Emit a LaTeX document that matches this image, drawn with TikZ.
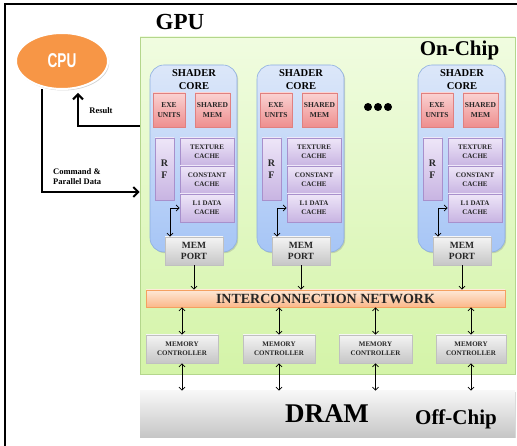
\documentclass[tikz,border=0pt]{standalone}
\usepackage{fontspec}
\setmainfont{Liberation Serif}
\newfontfamily\cpufont{Liberation Sans}
\usetikzlibrary{arrows.meta,shadows,shapes.geometric}
\newcommand\fsz[2]{\fontsize{#1}{#2}\selectfont\bfseries}
\definecolor{chipT}{HTML}{F0FCE0}
\definecolor{chipB}{HTML}{D4F4A8}
\definecolor{chipD}{HTML}{B4D68C}
\definecolor{coreT}{HTML}{DCE7F9}
\definecolor{coreB}{HTML}{A6C5F6}
\definecolor{coreD}{HTML}{8CAEE0}
\definecolor{exeT}{HTML}{FAD2D2}
\definecolor{exeB}{HTML}{EE8E8E}
\definecolor{exeD}{HTML}{E08080}
\definecolor{purT}{HTML}{EEE6F8}
\definecolor{purB}{HTML}{C8B4E2}
\definecolor{purD}{HTML}{A890CC}
\definecolor{grT}{HTML}{F4F4F4}
\definecolor{grB}{HTML}{C6C6C6}
\definecolor{grD}{HTML}{C0C0C0}
\definecolor{icnT}{HTML}{FEE8D6}
\definecolor{icnB}{HTML}{FBB88A}
\definecolor{icnD}{HTML}{F5A060}
\definecolor{cpuO}{HTML}{F79646}
\begin{document}
\begin{tikzpicture}[x=1pt,y=-1pt,
  shad/.style={drop shadow={shadow xshift=1.2pt,shadow yshift=-1.2pt,opacity=0.3}},
  bx/.style={rectangle,inner sep=0pt,align=center,line width=0.6pt,shad,text=black!85},
  exe/.style={bx,minimum width=32,minimum height=34,top color=exeT,bottom color=exeB,draw=exeD,font=\fsz{7.5}{10}},
  purp/.style={bx,minimum width=54,minimum height=28,top color=purT,bottom color=purB,draw=purD,font=\fsz{7}{9}},
  grayb/.style={bx,top color=grT,bottom color=grB,draw=grD},
  thinarr/.style={line width=0.8pt,>={Straight Barb[length=3pt,width=6pt]}},
  bigarr/.style={line width=2pt,>={Straight Barb[length=5pt,width=10pt]}},
  lbl/.style={inner sep=0pt,align=center}]
\path[use as bounding box] (0,0) rectangle (517,446);
\clip (0,0) rectangle (517,446);
\draw[line width=1.8pt] (5,4) rectangle (540,470);
% chip area
\node[bx,minimum width=375,minimum height=337,top color=chipT,bottom color=chipB,draw=chipD] (chip) at (327.5,205.5) {};
% DRAM
\node[bx,minimum width=375,minimum height=46,top color=grT!70!white,bottom color=grB,draw=none] (dram) at (327.5,414) {};
\node[lbl,font=\fsz{27}{30}] (dramtxt) at (327,414) {DRAM};
\node[lbl,font=\fsz{21}{24}] (offchip) at (456,419) {Off-Chip};
% labels
\node[lbl,font=\fsz{23}{26}] (gpu) at (180,22) {GPU};
\node[lbl,font=\fsz{21}{24}] (onchip) at (459.5,50) {On-Chip};
% cores
\foreach \d/\i in {0/a,107/b,268/c}{
  \node[bx,rounded corners=14,minimum width=87,minimum height=187,top color=coreT,bottom color=coreB,draw=coreD,drop shadow={opacity=0}] (core\i) at (193.5+\d,158.5) {};
  \node[lbl,font=\fsz{10.5}{13}] (title\i) at (194+\d,80) {SHADER\\CORE};
  \node[exe] (exe\i) at (169+\d,110) {EXE\\UNITS};
  \node[exe,minimum width=35] (sh\i) at (212.5+\d,110) {SHARED\\MEM};
  \node[purp,minimum width=19,minimum height=62,font=\fsz{10}{12}] (rf\i) at (164.5+\d,169) {R\\F};
  \node[purp] (tex\i) at (207+\d,152) {TEXTURE\\CACHE};
  \node[purp] (con\i) at (207+\d,180) {CONSTANT\\CACHE};
  \node[purp] (lone\i) at (207+\d,208) {L1 DATA\\CACHE};
  \node[grayb,minimum width=58,minimum height=28,font=\fsz{9.5}{11}] (mp\i) at (194+\d,251) {MEM\\PORT};
  \draw[thinarr,<->] (lone\i.west) -| ([xshift=-24pt]mp\i.north);
}
% dots
\fill (368,107) circle (4) (378,107) circle (4) (388,107) circle (4);
% interconnect
\node[bx,minimum width=359,minimum height=17,top color=icnT,bottom color=icnB,draw=icnD,font=\fsz{14}{16}] (icn) at (325.5,298.5) {INTERCONNECTION NETWORK};
\foreach \i in {a,b,c}{
  \draw[thinarr,->] (mp\i.south) -- (mp\i.south |- icn.north);
}
% memory controllers
\foreach \x/\w/\i in {182/72/1,279/72/2,375.5/73/3,471/70/4}{
  \node[grayb,minimum width=\w,minimum height=28,font=\fsz{7}{9}] (mc\i) at (\x,349) {MEMORY\\CONTROLLER};
  \draw[thinarr,<->] (icn.south -| mc\i.north) -- (mc\i.north);
  \draw[thinarr,<->] (mc\i.south) -- (mc\i.south |- dram.north);
}
% CPU
\node[ellipse,minimum width=92,minimum height=56,fill=cpuO,draw=white,line width=2pt,drop shadow={shadow xshift=1.2pt,shadow yshift=-1.5pt,opacity=0.35}] (cpu) at (62,61)
  {\cpufont\bfseries\color{white}\fontsize{20}{20}\selectfont\scalebox{0.68}[1]{CPU}};
\coordinate (resstart) at (chip.west |- 0,126);
\coordinate (resend) at (78,93);
\coordinate (cmdstart) at (42,89);
\coordinate (cmdend) at (chip.west |- 0,192);
\draw[bigarr,->] (resstart) -| (resend);
\draw[bigarr,->] (cmdstart) |- (cmdend);
\node[lbl,font=\fsz{8.5}{10}] (result) at (101,111) {Result};
\node[lbl,font=\fsz{8.5}{10},anchor=west,align=left] (cmd) at (53,177) {Command \&\\Parallel Data};
\end{tikzpicture}
\end{document}
